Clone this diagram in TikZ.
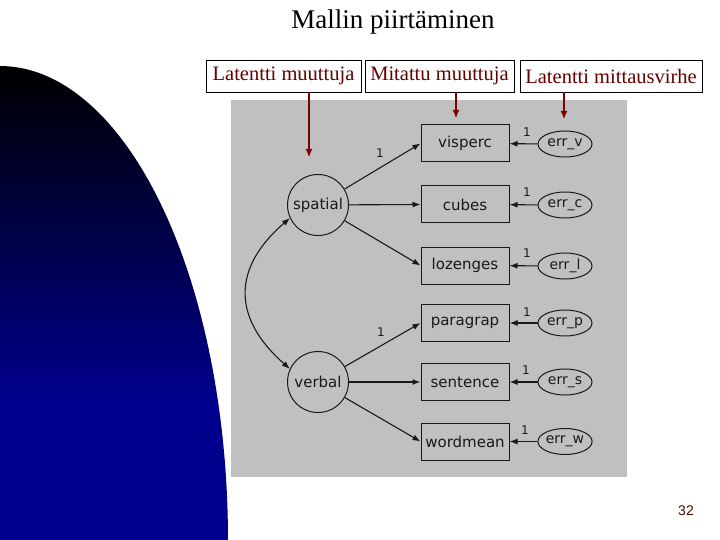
\documentclass[tikz,border=0pt]{standalone}
\usepackage{fontspec}
\setmainfont{Liberation Serif}
\newfontfamily\dvfont{DejaVu Sans}
\newfontfamily\lsfont{Liberation Sans}
\usetikzlibrary{arrows.meta,shapes.geometric}
\definecolor{navyc}{RGB}{0,0,140}
\definecolor{panelgray}{RGB}{192,192,192}
\definecolor{labred}{RGB}{100,0,0}
\definecolor{arrred}{RGB}{128,0,0}
\definecolor{pagecol}{RGB}{70,10,10}
\definecolor{inkc}{RGB}{25,25,25}
\pgfdeclareverticalshading{bluefade}{100bp}{color(0bp)=(navyc); color(40bp)=(navyc); color(75bp)=(black); color(100bp)=(black)}
\begin{document}
\begin{tikzpicture}[x=1pt,y=-1pt,
 titletext/.style={font=\fontsize{27}{32}\selectfont, inner sep=0pt},
 labbox/.style={draw=black, line width=0.8pt, text=labred, font=\fontsize{20.5}{24}\selectfont, minimum height=32pt, inner sep=0pt, anchor=center},
 redarr/.style={draw=arrred, line width=1.1pt, -{Latex[length=8pt,width=7pt]}},
 latent/.style={circle, draw=inkc, line width=1pt, minimum size=61pt, inner sep=0pt, text=inkc, font=\dvfont\fontsize{15}{18}\selectfont},
 observed/.style={rectangle, draw=inkc, line width=1pt, minimum width=88pt, minimum height=37pt, inner sep=0pt, text=inkc, font=\dvfont\fontsize{15}{18}\selectfont},
 errnode/.style={ellipse, draw=inkc, line width=1pt, minimum width=54pt, minimum height=26pt, inner sep=0pt, text=inkc, font=\dvfont\fontsize{14}{17}\selectfont},
 semarrow/.style={draw=inkc, line width=1.1pt, -{Latex[length=8pt,width=6pt]}},
 dblarrow/.style={draw=inkc, line width=1.1pt, {Latex[length=8pt,width=6pt]}-{Latex[length=8pt,width=6pt]}},
 onelab/.style={font=\dvfont\fontsize{12}{14}\selectfont, text=inkc, inner sep=0pt}
]
\useasboundingbox (0,0) rectangle (720,540);
\fill[white] (0,0) rectangle (720,540);

% blue quarter-ellipse
\shade[shading=bluefade] (0,540) -- plot[domain=0:90, samples=80] ({228*sin(\x)}, {540-474*cos(\x)}) -- cycle;

% title
\node[titletext] (title) at (393,22) {Mallin piirtäminen};

% gray panel
\fill[panelgray] (231,100) rectangle (627,477);

% label boxes
\node[labbox, minimum width=155pt] (lab1) at (283.5,76) {Latentti muuttuja};
\node[labbox, minimum width=149pt] (lab2) at (439.5,76) {Mitattu muuttuja};
\node[labbox, minimum width=182pt] (lab3) at (611,76) {Latentti mittausvirhe};

\coordinate (t1) at (309,157);
\coordinate (t2) at (456,118);
\coordinate (t3) at (564,119);
\draw[redarr] (lab1.south -| t1) -- (t1);
\draw[redarr] (lab2.south -| t2) -- (t2);
\draw[redarr] (lab3.south -| t3) -- (t3);

% latent variables
\node[latent] (spatial) at (318,205) {spatial};
\node[latent] (verbal) at (318,382) {verbal};

% observed
\node[observed] (visperc) at (465,143.5) {visperc};
\node[observed] (cubes) at (465,204.5) {cubes};
\node[observed] (lozenges) at (465,265.5) {lozenges};
\node[observed] (paragrap) at (465,323) {paragrap};
\node[observed] (sentence) at (465,382) {sentence};
\node[observed] (wordmean) at (465,441.5) {wordmean};

% errors
\node[errnode] (errv) at (565,144) {err\_v};
\node[errnode] (errc) at (565,205) {err\_c};
\node[errnode] (errl) at (565,266) {err\_l};
\node[errnode] (errp) at (565,323) {err\_p};
\node[errnode] (errs) at (565,382) {err\_s};
\node[errnode] (errw) at (565,441.5) {err\_w};

% loadings
\draw[semarrow] (spatial) -- (visperc.west);
\draw[semarrow] (spatial) -- (cubes.west);
\draw[semarrow] (spatial) -- (lozenges.west);
\draw[semarrow] (verbal) -- (paragrap.west);
\draw[semarrow] (verbal) -- (sentence.west);
\draw[semarrow] (verbal) -- (wordmean.west);

% error arrows
\draw[semarrow] (errv) -- (visperc);
\draw[semarrow] (errc) -- (cubes);
\draw[semarrow] (errl) -- (lozenges);
\draw[semarrow] (errp) -- (paragrap);
\draw[semarrow] (errs) -- (sentence);
\draw[semarrow] (errw) -- (wordmean);

% covariance
\draw[dblarrow] (spatial.205) .. controls (232,268) and (232,318) .. (verbal.155);

% labels "1"
\node[onelab] (l1) at (380,153) {1};
\node[onelab] (l2) at (381,332) {1};
\node[onelab] (e1) at (527,132) {1};
\node[onelab] (e2) at (527,192) {1};
\node[onelab] (e3) at (527,253) {1};
\node[onelab] (e4) at (527,312) {1};
\node[onelab] (e5) at (526,370) {1};
\node[onelab] (e6) at (525,430) {1};

% page number
\node[font=\lsfont\fontsize{14}{17}\selectfont, text=pagecol, inner sep=0pt] (pnum) at (686,511) {32};
\end{tikzpicture}
\end{document}
